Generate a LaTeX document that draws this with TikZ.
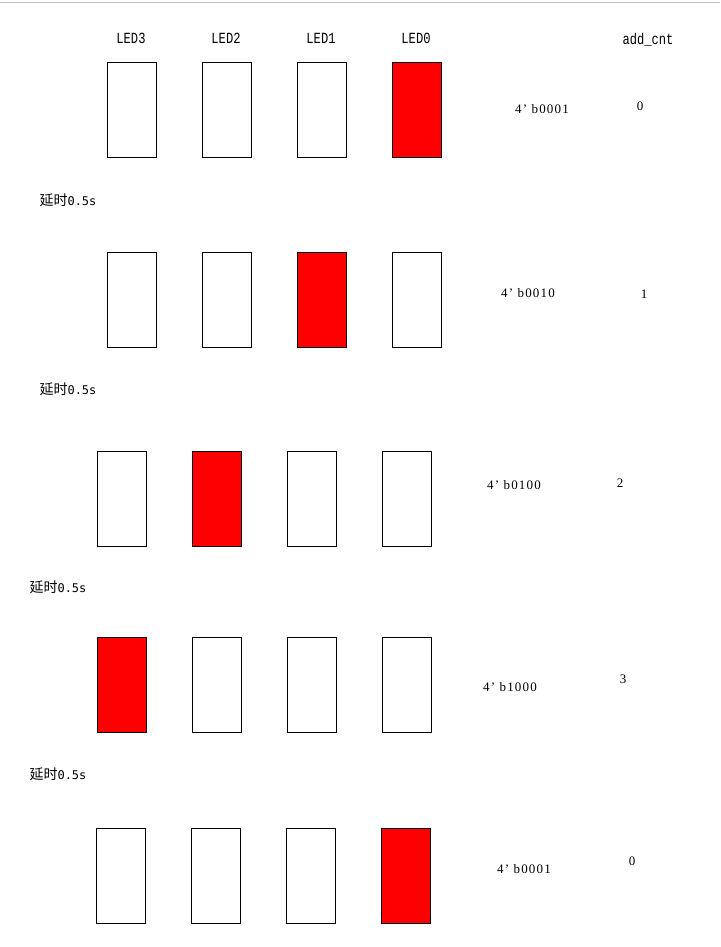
\documentclass[tikz,border=0pt]{standalone}
\usepackage{fontspec}
\setmainfont{Liberation Serif}
\setmonofont{Liberation Mono}
\newfontfamily\cjk{Noto Sans CJK SC}
\newfontfamily\narrowmono[FakeStretch=0.78]{Liberation Mono}
\newfontfamily\delaydigits{DejaVu Sans Mono}
\usetikzlibrary{positioning}

\newcommand{\delaytext}{\cjk 延时\delaydigits\fontsize{12}{12}\selectfont 0.5s}

\begin{document}
\begin{tikzpicture}[
    x=1pt, y=-1pt,
    led/.style={rectangle, draw, fill=white, line width=0.8pt, minimum width=49pt, minimum height=95pt, inner sep=0pt},
    ledon/.style={led, fill=red},
    ledname/.style={font=\narrowmono\fontsize{15.5}{16}\selectfont},
    code/.style={font=\addfontfeature{LetterSpace=9}\fontsize{13}{14}\selectfont},
    delay/.style={font=\fontsize{14}{15}\selectfont}
]
\useasboundingbox (0,0) rectangle (720,947);
\draw[gray!50, line width=1pt] (0,3) -- (720,3);

% header
\node[ledname] (n3) at (131,38) {LED3};
\node[ledname] (n2) at (226,38) {LED2};
\node[ledname] (n1) at (321,38) {LED1};
\node[ledname] (n0) at (416,38) {LED0};
\node[ledname] (cnt) at (648,40) {add\_cnt};

% step 0
\node[led]   (a3) at (131.5,109.5) {};
\node[led]   (a2) at (226.5,109.5) {};
\node[led]   (a1) at (321.5,109.5) {};
\node[ledon] (a0) at (416.5,109.5) {};
\node[code] (av) at (542,109) {4’ b0001};
\node[code] (ac) at (640,106) {0};
\node[delay] (d1) at (68,200) {\delaytext};

% step 1
\node[led]   (b3) at (131.5,299.5) {};
\node[led]   (b2) at (226.5,299.5) {};
\node[ledon] (b1) at (321.5,299.5) {};
\node[led]   (b0) at (416.5,299.5) {};
\node[code] (bv) at (528,293) {4’ b0010};
\node[code] (bc) at (644,294) {1};
\node[delay] (d2) at (68,389) {\delaytext};

% step 2
\node[led]   (c3) at (122,498.5) {};
\node[ledon] (c2) at (217,498.5) {};
\node[led]   (c1) at (312,498.5) {};
\node[led]   (c0) at (407,498.5) {};
\node[code] (cv) at (514,485) {4’ b0100};
\node[code] (cc) at (620,483) {2};
\node[delay] (d3) at (58,587) {\delaytext};

% step 3
\node[ledon] (e3) at (121.5,684.5) {};
\node[led]   (e2) at (216.5,684.5) {};
\node[led]   (e1) at (311.5,684.5) {};
\node[led]   (e0) at (406.5,684.5) {};
\node[code] (ev) at (510,687) {4’ b1000};
\node[code] (ec) at (623,679) {3};
\node[delay] (d4) at (58,774) {\delaytext};

% step 4
\node[led]   (f3) at (120.5,875.5) {};
\node[led]   (f2) at (215.5,875.5) {};
\node[led]   (f1) at (310.5,875.5) {};
\node[ledon] (f0) at (405.5,875.5) {};
\node[code] (fv) at (524,869) {4’ b0001};
\node[code] (fc) at (632,861) {0};

\end{tikzpicture}
\end{document}
